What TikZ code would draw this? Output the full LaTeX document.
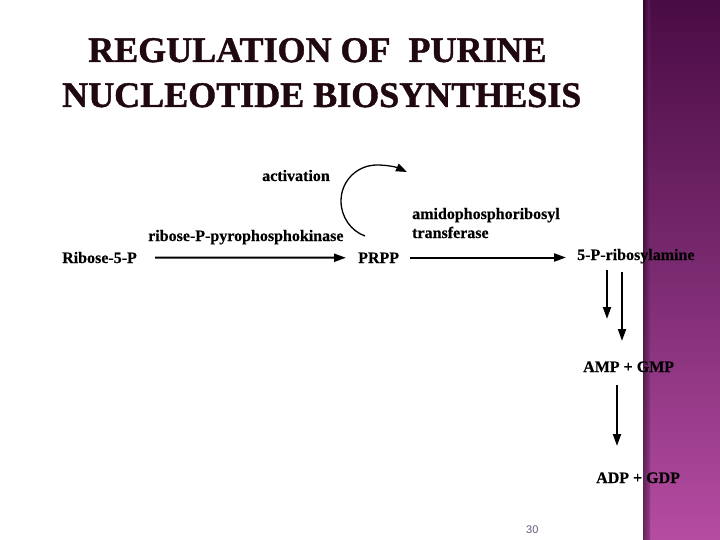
\documentclass[tikz,border=0pt]{standalone}
\usepackage{fontspec}
\setmainfont{Liberation Serif}
\newfontfamily\titlefont{Liberation Serif Bold}[FakeBold=1.2]
\newfontfamily\lblfont{Liberation Serif Bold}[FakeBold=0.4]
\newfontfamily\numfont{Liberation Sans}
\usetikzlibrary{arrows.meta}
\definecolor{bartop}{HTML}{4A0C44}
\definecolor{barbot}{HTML}{B64CA2}
\definecolor{barmid}{HTML}{7A2A70}
\definecolor{numcol}{HTML}{675680}
\definecolor{ttlcol}{HTML}{200810}
\tikzset{
  lbl/.style={anchor=base west, inner sep=0pt, font=\lblfont\fontsize{16}{18}\selectfont},
  ttl/.style={anchor=base west, inner sep=0pt, font=\titlefont\fontsize{36}{40}\selectfont, text=ttlcol},
  arr/.style={line width=2pt, -{Triangle[length=12pt,width=8pt]}},
  carr/.style={line width=1.3pt, -{Triangle[length=11pt,width=8pt]}}
}
\begin{document}
\begin{tikzpicture}[x=1pt,y=-1pt]
\useasboundingbox (0,0) rectangle (720,540);
\fill[white] (0,0) rectangle (720,540);
% side bar
\shade[top color=bartop, bottom color=barbot, middle color=barmid] (643,0) rectangle (720,540);
\shade[left color=black!70!bartop, right color=bartop!0!barmid, opacity=0.5] (643,0) rectangle (650,540);
% title
\node[ttl] (t1) at (88,62) {REGULATION OF\ \ PURINE};
\node[ttl] (t2) at (62,107) {NUCLEOTIDE BIOSYNTHESIS};
% labels
\node[lbl] (act) at (262,181) {activation};
\node[lbl] (kin) at (148,241) {ribose-P-pyrophosphokinase};
\node[lbl] (ribose) at (62,263) {Ribose-5-P};
\node[lbl] (prpp) at (358,263) {PRPP};
\node[lbl] (amido) at (412,219) {amidophosphoribosyl};
\node[lbl] (trans) at (412,238) {transferase};
\node[lbl] (ribosyl) at (577,260) {5-P-ribosylamine};
\node[lbl] (amp) at (583,372) {AMP + GMP};
\node[lbl] (adp) at (596,483) {ADP + GDP};
\node[anchor=base west, inner sep=0pt, font=\numfont\fontsize{11}{13}\selectfont, text=numcol] (num) at (526,533) {30};
% connectors
\draw[arr] ([xshift=18pt]ribose.east) -- ([xshift=-12pt]prpp.west);
\coordinate (a0) at (410,257.5);
\coordinate (a1) at (566,257.5);
\draw[arr] (a0) -- (a1);
\coordinate (v1s) at (607,270);
\coordinate (v1e) at (607,319);
\coordinate (v2s) at (622,272);
\coordinate (v2e) at (622,341);
\coordinate (v3s) at (617,385);
\coordinate (v3e) at (617,446);
\draw[arr] (v1s) -- (v1e);
\draw[arr] (v2s) -- (v2e);
\draw[arr] (v3s) -- (v3e);
\coordinate (cs) at (365,236);
\coordinate (ce) at (407,172);
\draw[carr] (cs) .. controls (351,231) and (341,217) .. (341,201)
  .. controls (341,181) and (357,165) .. (377,165)
  .. controls (387,165) and (396,167) .. (ce);
\end{tikzpicture}
\end{document}
